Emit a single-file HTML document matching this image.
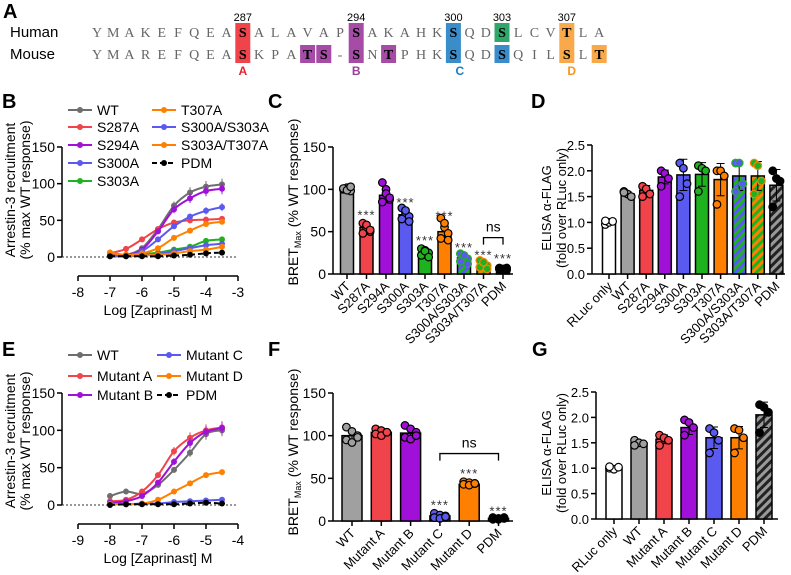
<!DOCTYPE html>
<html><head><meta charset="utf-8"><style>
html,body{margin:0;padding:0;background:#fff}
svg{display:block;font-family:"Liberation Sans",Arial,sans-serif}
</style></head><body>
<svg id="fig" width="791" height="575" viewBox="0 0 791 575" xmlns="http://www.w3.org/2000/svg">
<defs>
<pattern id="hBG" width="6" height="6" patternUnits="userSpaceOnUse" patternTransform="rotate(45)"><rect width="6" height="6" fill="#5a5af0"/><rect width="3" height="6" fill="#1fb21f"/></pattern>
<pattern id="hOG" width="6" height="6" patternUnits="userSpaceOnUse" patternTransform="rotate(45)"><rect width="6" height="6" fill="#ff8000"/><rect width="3" height="6" fill="#1fb21f"/></pattern>
<pattern id="hK" width="6" height="6" patternUnits="userSpaceOnUse" patternTransform="rotate(45)"><rect width="6" height="6" fill="#999"/><rect width="3" height="6" fill="#222"/></pattern>
</defs>
</svg>
<script>
// ---------- data ----------
const humanSeq = "YMAKEFQEASALAVAPSAKAHKSQDSLCVTLA";
const mouseSeq = "YMAREFQEASKPATS-SNTPHKSQDSQILSLT";
const siteIdx = [9,16,22,25,29];
const siteNums = ["287","294","300","303","307"];

const bSeries = ["WT","S287A","S294A","S300A","S303A","T307A","S300A/S303A","S303A/T307A","PDM"];
const bX = [-7,-6.5,-6,-5.5,-5,-4.5,-4,-3.5];
const bWT = [1,3,12,38,70,88,96,99];
const bS287A = [5,11,24,38,47,50,51,52];
const bS294A = [2,3,10,35,65,80,90,93];
const bS300A = [1,2,8,24,42,55,63,68];
const bS303A = [6,2,4,6,10,14,22,24];
const bT307A = [6,3,5,12,26,36,45,48];
const bSS = [1,1,2,4,8,12,16,18];
const bST = [6,2,2,3,5,8,10,14];
const bPDM = [1,1,1,1,2,3,5,6];

const eSeries = ["WT","Mutant A","Mutant B","Mutant C","Mutant D","PDM"];
const eX = [-8,-7.5,-7,-6.5,-6,-5.5,-5,-4.5];
const eWT = [12,18,15,27,47,70,95,100];
const eA = [5,7,18,40,72,90,100,104];
const eB = [3,5,12,30,58,83,98,103];
const eC = [2,1,2,2,4,5,6,7];
const eD = [1,1,2,7,18,29,40,44];
const ePDM = [0,1,1,1,1,2,3,2];

const cCats = ["WT","S287A","S294A","S300A","S303A","T307A","S300A/S303A","S303A/T307A","PDM"];
const cVals = [100,55,93,70,25,50,19,10,6];
const cPts = [[100,102,98,101,99,103],[60,55,50,48,58,52],[108,100,88,85,95,90],[78,72,68,65,75,62],[30,28,25,22,27,20],[66,55,48,42,60,40],[24,20,18,15,22,12],[16,12,10,8,14,6],[7,6,5,6,5,7]];

const dCats = ["RLuc only","WT","S287A","S294A","S300A","S303A","T307A","S300A/S303A","S303A/T307A","PDM"];
const dVals = [1.0,1.55,1.62,1.88,1.92,1.93,1.83,1.9,1.9,1.72];
const dPts = [[0.96,1.0,1.02,1.03],[1.6,1.55,1.5,1.58],[1.7,1.65,1.55,1.5],[2.0,1.95,1.85,1.7],[2.15,2.05,1.75,1.5],[2.1,2.05,2.0,1.6],[2.0,2.0,1.9,1.35],[2.15,2.15,1.75,1.6],[2.15,2.1,1.8,1.55],[2.0,1.85,1.8,1.3]];

const fCats = ["WT","Mutant A","Mutant B","Mutant C","Mutant D","PDM"];
const fVals = [100,104,103,6,43,3];
const fPts = [[110,105,100,95,92,98],[108,106,104,102,100,104],[112,108,104,98,96,100],[9,7,6,4,3,5],[46,45,44,43,42,44],[4,3,3,2,2,4]];

const gCats = ["RLuc only","WT","Mutant A","Mutant B","Mutant C","Mutant D","PDM"];
const gVals = [1.0,1.5,1.57,1.8,1.6,1.6,2.05];
const gPts = [[1.0,0.98,1.02,1.03],[1.55,1.5,1.48,1.45],[1.65,1.6,1.55,1.45],[1.95,1.9,1.8,1.65],[1.78,1.7,1.55,1.3],[1.78,1.75,1.6,1.3],[2.25,2.2,2.1,1.7]];

// ---------- helpers ----------
const NS="http://www.w3.org/2000/svg";
const svg=document.getElementById('fig');
function mk(tag,attrs,name,parent,text){
  const el=document.createElementNS(NS,tag);
  for(const k in attrs) el.setAttribute(k,attrs[k]);
  
  
  if(text!==undefined) el.textContent=text;
  (parent||svg).appendChild(el);
  return el;
}
function lin(d0,d1,r0,r1){return v=>r0+(v-d0)*(r1-r0)/(d1-d0);}

// panel letters
[["A",3,18],["B",2,108],["C",268,108],["D",531,108],["E",2,356],["F",268,356],["G",532,356]].forEach(p=>{
  mk('text',{x:p[1],y:p[2],'font-size':20,'font-weight':'bold'},'panel-label-'+p[0].toLowerCase(),svg,p[0]);
});

// ---------- Panel A ----------
(function(){
  const g=mk('g',{},'sequence-alignment');
  const x0=97, dx=16.2, yH=32, yM=54;
  mk('text',{x:10,y:yH+5,'font-size':15},'human-label',g,'Human');
  mk('text',{x:10,y:yM+5,'font-size':15},'mouse-label',g,'Mouse');
  const boxes=[[9,'#f0434a',0,1],[16,'#a64ca6',0,1],[22,'#3a8ccb',0,1],[25,'#2fa66a',0,0],[25,'#3a8ccb',1,1],[29,'#f9a84a',0,1],[13,'#a64ca6',1,1],[14,'#a64ca6',1,1],[18,'#a64ca6',1,1],[31,'#f9a84a',1,1]];
  boxes.forEach(b=>{
    const y1=b[2]===0?yH-9:yM-9, y2=b[3]===0?yH+10:yM+9;
    mk('rect',{x:x0+b[0]*dx-7.5,y:y1,width:15,height:y2-y1,fill:b[1]},'residue-highlight',g);
  });
  const bold=new Set([9,16,22,25,29]);
  const mBold=new Set([9,13,14,16,18,22,25,29,31]);
  for(let i=0;i<32;i++){
    mk('text',{x:x0+i*dx,y:yH+5,'font-size':14,'text-anchor':'middle','font-family':'Liberation Serif, serif','font-weight':bold.has(i)?'bold':'normal',fill:bold.has(i)?'#000':'#666'},'human-residue',g,humanSeq[i]);
    mk('text',{x:x0+i*dx,y:yM+5,'font-size':14,'text-anchor':'middle','font-family':'Liberation Serif, serif','font-weight':mBold.has(i)?'bold':'normal',fill:mBold.has(i)?'#000':'#666'},'mouse-residue',g,mouseSeq[i]);
  }
  siteIdx.forEach((s,i)=>mk('text',{x:x0+s*dx,y:21,'font-size':11,'text-anchor':'middle'},'site-number',g,siteNums[i]));
  [["A",9,'#e8202a'],["B",16,'#9b3d9b'],["C",22.4,'#1a7cc7'],["D",29.3,'#f7941d']].forEach(m=>{
    mk('text',{x:x0+m[1]*dx,y:75,'font-size':12,'font-weight':'bold','text-anchor':'middle',fill:m[2]},'mutant-site-label',g,m[0]);
  });
})();

// ---------- curve panels ----------
function curvePanel(o){
  const g=mk('g',{},o.name);
  const X=lin(o.xmin,o.xmax,78,238), Y=lin(0,150,o.y0,o.y150);
  mk('line',{x1:62,y1:o.y150,x2:62,y2:o.y0,stroke:'#000','stroke-width':1.5},'y-axis',g);
  [0,50,100,150].forEach(t=>{
    mk('line',{x1:57,y1:Y(t),x2:62,y2:Y(t),stroke:'#000','stroke-width':1.5},'y-tick',g);
    mk('text',{x:55,y:Y(t)+5,'font-size':14,'text-anchor':'end'},'y-tick-label',g,String(t));
  });
  const ax=o.y0+19;
  mk('line',{x1:78,y1:ax,x2:238,y2:ax,stroke:'#000','stroke-width':1.5},'x-axis',g);
  for(let t=o.xmin;t<=o.xmax;t++){
    mk('line',{x1:X(t),y1:ax,x2:X(t),y2:ax+5,stroke:'#000','stroke-width':1.5},'x-tick',g);
    mk('text',{x:X(t),y:ax+21,'font-size':14,'text-anchor':'middle'},'x-tick-label',g,String(t));
  }
  mk('text',{x:158,y:ax+39,'font-size':14,'text-anchor':'middle'},'x-axis-title',g,'Log [Zaprinast] M');
  const yt=mk('text',{transform:`translate(15,${o.ymid}) rotate(-90)`,'font-size':14,'text-anchor':'middle'},'y-axis-title',g);
  mk('tspan',{x:0,dy:0},'y-title-line1',yt,'Arrestin-3 recruitment');
  mk('tspan',{x:0,dy:15},'y-title-line2',yt,'(% max WT response)');
  mk('line',{x1:62,y1:o.y0,x2:238,y2:o.y0,stroke:'#333','stroke-width':1,'stroke-dasharray':'2,2'},'zero-line',g);
  o.series.forEach(s=>{
    const pts=o.xs.map((x,i)=>[X(x),Y(s.v[i])]);
    let d='M'+pts[0][0]+','+pts[0][1];
    for(let i=0;i<pts.length-1;i++){
      const p0=pts[Math.max(0,i-1)],p1=pts[i],p2=pts[i+1],p3=pts[Math.min(pts.length-1,i+2)];
      d+=` C${p1[0]+(p2[0]-p0[0])/6},${p1[1]+(p2[1]-p0[1])/6} ${p2[0]-(p3[0]-p1[0])/6},${p2[1]-(p3[1]-p1[1])/6} ${p2[0]},${p2[1]}`;
    }
    mk('path',{d:d,fill:'none',stroke:s.c,'stroke-width':2,'stroke-dasharray':s.dash?'5,3':'none'},'curve-'+s.n.toLowerCase().replace(/[^a-z0-9]/g,''),g);
    pts.forEach((p,i)=>{
      const e=Math.max(1.5,s.v[i]*0.08);
      mk('line',{x1:p[0],y1:Y(s.v[i]+e),x2:p[0],y2:Y(s.v[i]-e),stroke:s.c,'stroke-width':1},'error-bar',g);
      mk('circle',{cx:p[0],cy:p[1],r:3,fill:s.c},'data-point',g);
    });
  });
  o.series.forEach((s,i)=>{
    const col=i<o.perCol?0:1, row=i<o.perCol?i:i-o.perCol;
    const lx=o.legX[col], ly=o.legY[row];
    mk('line',{x1:lx,y1:ly,x2:lx+24,y2:ly,stroke:s.c,'stroke-width':2,'stroke-dasharray':s.dash?'5,3':'none'},'legend-line',g);
    mk('circle',{cx:lx+12,cy:ly,r:3,fill:s.c},'legend-marker',g);
    mk('text',{x:lx+29,y:ly+5,'font-size':14},'legend-entry',g,s.n);
  });
}
curvePanel({name:'panel-b-chart',xmin:-8,xmax:-3,y0:257,y150:147,ymid:190,xs:bX,perCol:5,
  legX:[68,152],legY:[110,127,145,163,181],
  series:[{n:bSeries[0],v:bWT,c:'#6e6e6e'},{n:bSeries[1],v:bS287A,c:'#f0434a'},{n:bSeries[2],v:bS294A,c:'#a010d8'},{n:bSeries[3],v:bS300A,c:'#5a5af0'},{n:bSeries[4],v:bS303A,c:'#1fb21f'},{n:bSeries[5],v:bT307A,c:'#ff8000'},{n:bSeries[6],v:bSS,c:'#5a5af0'},{n:bSeries[7],v:bST,c:'#ff8000'},{n:bSeries[8],v:bPDM,c:'#000',dash:1}]});
curvePanel({name:'panel-e-chart',xmin:-9,xmax:-4,y0:505,y150:393,ymid:441,xs:eX,perCol:3,
  legX:[68,157],legY:[355,376,395],
  series:[{n:eSeries[0],v:eWT,c:'#6e6e6e'},{n:eSeries[1],v:eA,c:'#f0434a'},{n:eSeries[2],v:eB,c:'#a010d8'},{n:eSeries[3],v:eC,c:'#5a5af0'},{n:eSeries[4],v:eD,c:'#ff8000'},{n:eSeries[5],v:ePDM,c:'#000',dash:1}]});

// ---------- bar panels ----------
function barPanel(o){
  const g=mk('g',{},o.name);
  const Y=lin(0,o.ymax,o.y0,o.ytop);
  mk('line',{x1:o.ax,y1:o.ytop,x2:o.ax,y2:o.y0,stroke:'#000','stroke-width':1.5},'y-axis',g);
  mk('line',{x1:o.ax,y1:o.y0,x2:o.xend,y2:o.y0,stroke:'#000','stroke-width':1.5},'x-axis',g);
  o.ticks.forEach(t=>{
    mk('line',{x1:o.ax-5,y1:Y(t),x2:o.ax,y2:Y(t),stroke:'#000','stroke-width':1.5},'y-tick',g);
    mk('text',{x:o.ax-7,y:Y(t)+5,'font-size':o.tf||14,'text-anchor':'end'},'y-tick-label',g,o.fmt(t));
  });
  o.cats.forEach((c,i)=>{
    const cx=o.c0+i*o.dx, v=o.vals[i], pts=o.pts[i];
    const sd=Math.sqrt(pts.reduce((a,p)=>a+(p-v)*(p-v),0)/(pts.length-1));
    mk('rect',{x:cx-o.bw/2,y:Y(v),width:o.bw,height:o.y0-Y(v),fill:o.fills[i],stroke:'#000','stroke-width':1.5},'bar-'+c.toLowerCase().replace(/[^a-z0-9]/g,''),g);
    mk('path',{d:`M${cx},${Y(v)} V${Y(v+sd)} M${cx-4},${Y(v+sd)} H${cx+4} M${cx},${Y(v)} V${Y(v-sd)} M${cx-4},${Y(v-sd)} H${cx+4}`,stroke:'#000','stroke-width':1,fill:'none'},'error-bar',g);
    pts.forEach((p,j)=>{
      mk('circle',{cx:cx+(j%3-1)*o.bw*0.28,cy:Y(p),r:3.8,fill:o.dots[i],stroke:o.dotStroke[i],'stroke-width':1.2},'replicate-point',g);
    });
    mk('line',{x1:cx,y1:o.y0,x2:cx,y2:o.y0+5,stroke:'#000','stroke-width':1.5},'x-tick',g);
    mk('text',{transform:`translate(${cx+4},${o.y0+13}) rotate(-45)`,'font-size':13,'text-anchor':'end'},'x-tick-label',g,c);
    if(o.stars && o.stars[i]!==null){
      mk('text',{x:cx,y:Y(o.stars[i])+4,'font-size':13,'text-anchor':'middle',fill:'#333','letter-spacing':'1'},'significance-stars',g,'***');
    }
  });
  if(o.ns){
    const a=o.c0+o.ns[0]*o.dx, b=o.c0+o.ns[1]*o.dx, y=Y(o.ns[2]);
    mk('path',{d:`M${a},${y+7} V${y} H${b} V${y+7}`,stroke:'#000','stroke-width':1.3,fill:'none'},'ns-bracket',g);
    mk('text',{x:(a+b)/2,y:y-6,'font-size':14,'text-anchor':'middle'},'ns-label',g,'ns');
  }
  return g;
}
function yLabel(name,x,y,lines,sub){
  const t=mk('text',{transform:`translate(${x},${y}) rotate(-90)`,'font-size':sub?14:13,'text-anchor':'middle'},name);
  if(sub){
    mk('tspan',{},'y-title-part',t,'BRET');
    mk('tspan',{'font-size':9,dy:3},'y-title-subscript',t,'Max');
    mk('tspan',{dy:-3},'y-title-part',t,' (% WT response)');
  } else {
    lines.forEach((l,i)=>mk('tspan',{x:0,dy:i?15:0},'y-title-line',t,l));
  }
}
const K='#000';
barPanel({name:'panel-c-chart',cats:cCats,vals:cVals,pts:cPts,ymax:150,y0:274,ytop:147,ax:333,xend:513,c0:347,dx:19.5,bw:13,
  ticks:[0,50,100,150],fmt:t=>String(t),
  fills:['#a0a0a0','#f0434a','#a010d8','#5a5af0','#1fb21f','#ff8000','url(#hBG)','url(#hOG)','#000'],
  dots:['#a0a0a0','#f0434a','#a010d8','#5a5af0','#1fb21f','#ff8000','#5a5af0','#1fb21f','#000'],
  dotStroke:[K,K,K,K,K,K,'#1fb21f','#ff8000',K],
  stars:[null,69,null,84,39,68,31,22,18],ns:[7,8,43]});
yLabel('y-axis-title-c',298,202,null,true);

barPanel({name:'panel-d-chart',cats:dCats,vals:dVals,pts:dPts,ymax:2.5,y0:274,ytop:145,ax:592,xend:785,c0:609,dx:18.6,bw:13,tf:13,
  ticks:[0,0.5,1,1.5,2,2.5],fmt:t=>t.toFixed(1),
  fills:['#fff','#a0a0a0','#f0434a','#a010d8','#5a5af0','#1fb21f','#ff8000','url(#hBG)','url(#hOG)','url(#hK)'],
  dots:['#fff','#a0a0a0','#f0434a','#a010d8','#5a5af0','#1fb21f','#ff8000','#5a5af0','#1fb21f','#000'],
  dotStroke:[K,K,K,K,K,K,K,'#1fb21f','#ff8000',K]});
yLabel('y-axis-title-d',551,208,['ELISA \u03b1-FLAG','(fold over RLuc only)']);

barPanel({name:'panel-f-chart',cats:fCats,vals:fVals,pts:fPts,ymax:150,y0:521,ytop:393,ax:333,xend:513,c0:352,dx:29.3,bw:20,
  ticks:[0,50,100,150],fmt:t=>String(t),
  fills:['#a0a0a0','#f0434a','#a010d8','#5a5af0','#ff8000','#000'],
  dots:['#a0a0a0','#f0434a','#a010d8','#5a5af0','#ff8000','#000'],
  dotStroke:[K,K,K,K,K,K],
  stars:[null,null,null,18,55,11],ns:[3,5,79]});
yLabel('y-axis-title-f',298,452,null,true);

barPanel({name:'panel-g-chart',cats:gCats,vals:gVals,pts:gPts,ymax:2.5,y0:519,ytop:392,ax:596,xend:778,c0:614,dx:25,bw:16,tf:13,
  ticks:[0,0.5,1,1.5,2,2.5],fmt:t=>t.toFixed(1),
  fills:['#fff','#a0a0a0','#f0434a','#a010d8','#5a5af0','#ff8000','url(#hK)'],
  dots:['#fff','#a0a0a0','#f0434a','#a010d8','#5a5af0','#ff8000','#000'],
  dotStroke:[K,K,K,K,K,K,K]});
yLabel('y-axis-title-g',551,453,['ELISA \u03b1-FLAG','(fold over RLuc only)']);
</script>
</body></html>
